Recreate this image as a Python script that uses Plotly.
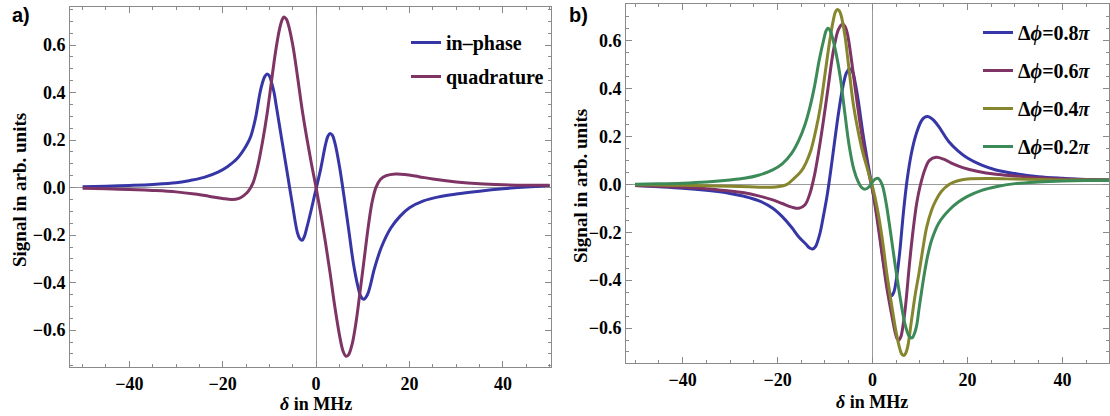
import plotly.graph_objects as go

# ---------------- Panel a data ----------------
inphase_x = [-50, -45, -40, -35, -30, -27, -24, -21, -19, -17, -15, -14, -13, -12, -11.5, -11, -10.5, -10, -9.5, -9,
             -8.5, -8, -7, -6, -5, -4, -3.5, -3, -2.5, -2, -1, 0, 1, 2, 2.5, 3, 3.5, 4, 5, 6, 7, 8, 9, 9.5, 10.2, 11,
             11.5, 12.5, 14, 16, 18, 20, 23, 26, 30, 35, 40, 45, 50]
inphase_y = [0.004, 0.006, 0.009, 0.013, 0.02, 0.03, 0.043, 0.065, 0.088, 0.12, 0.175, 0.215, 0.29, 0.40, 0.44,
             0.467, 0.478, 0.47, 0.44, 0.40, 0.34, 0.28, 0.16, 0.04, -0.08, -0.19, -0.215, -0.222, -0.205, -0.17,
             -0.09, -0.005, 0.08, 0.18, 0.215, 0.228, 0.22, 0.19, 0.09, -0.04, -0.18, -0.32, -0.42, -0.455, -0.47,
             -0.45, -0.42, -0.34, -0.25, -0.17, -0.12, -0.085, -0.056, -0.04, -0.027, -0.015, -0.005, 0.003, 0.008]

quad_x = [-50, -45, -40, -35, -30, -26, -23, -20, -18, -16.5, -15.5, -14.5, -13.5, -12.5, -11.5, -10.5, -9.6, -8.7,
          -7.8, -7.3, -6.9, -6.4, -6, -5, -4, -3, -2, -1, 0, 1, 2, 3, 4, 5, 5.8, 6.4, 6.9, 7.7, 8.6, 9.4, 10.3, 11.2,
          12, 12.8, 13.8, 15, 17, 19, 22, 25, 30, 35, 40, 45, 50]
quad_y = [-0.003, -0.005, -0.008, -0.012, -0.018, -0.027, -0.036, -0.046, -0.05, -0.045, -0.034, -0.015, 0.02, 0.09,
          0.19, 0.31, 0.44, 0.57, 0.67, 0.705, 0.718, 0.71, 0.69, 0.6, 0.47, 0.33, 0.21, 0.1, 0.0, -0.11, -0.23,
          -0.36, -0.5, -0.62, -0.69, -0.71, -0.705, -0.66, -0.56, -0.44, -0.3, -0.16, -0.06, 0.0, 0.035, 0.05, 0.057,
          0.055, 0.046, 0.036, 0.024, 0.016, 0.012, 0.01, 0.01]

# ---------------- Panel b data ----------------
b08_x = [-50, -45, -40, -35, -30, -27, -24, -21, -19, -17, -15.5, -14, -13.3, -12.6, -12, -11.5, -11, -10.5, -9.5,
         -8.5, -7.5, -6.5, -6, -5.5, -4.8, -4.2, -3.6, -3, -2, -1, 0, 1, 2, 3, 3.5, 4, 4.5, 5, 5.7, 6.5, 7.3, 8.2,
         9.2, 10.3, 11, 11.6, 12.3, 13, 14, 16, 18, 20, 23, 26, 30, 35, 40, 45, 50]
b08_y = [-0.005, -0.01, -0.016, -0.025, -0.038, -0.05, -0.068, -0.1, -0.135, -0.18, -0.22, -0.25, -0.265, -0.27,
         -0.26, -0.235, -0.2, -0.15, -0.04, 0.1, 0.25, 0.38, 0.43, 0.465, 0.483, 0.47, 0.42, 0.35, 0.21, 0.09, -0.02,
         -0.13, -0.28, -0.41, -0.45, -0.465, -0.45, -0.4, -0.29, -0.12, 0.02, 0.13, 0.21, 0.265, 0.28, 0.283, 0.277,
         0.265, 0.24, 0.18, 0.14, 0.11, 0.08, 0.06, 0.045, 0.032, 0.025, 0.02, 0.018]

b06_x = [-50, -45, -40, -35, -30, -27, -24, -21, -19, -17, -15.5, -14.2, -13.2, -12.3, -11.3, -10.3, -9.3, -8.3,
         -7.3, -6.8, -6.3, -5.8, -5.3, -4.5, -3.5, -2.5, -1.5, -0.5, 0, 1, 2, 3, 4, 4.8, 5.2, 5.6, 6, 6.5, 7, 7.8,
         8.5, 9.3, 10, 11, 12, 13.4, 15, 17, 19, 22, 26, 30, 35, 40, 45, 50]
b06_y = [-0.005, -0.008, -0.012, -0.018, -0.028, -0.035, -0.048, -0.065, -0.08, -0.095, -0.1, -0.085, -0.04, 0.03,
         0.14, 0.27, 0.41, 0.55, 0.64, 0.66, 0.67, 0.66, 0.63, 0.53, 0.38, 0.24, 0.12, 0.02, -0.025, -0.15, -0.29,
         -0.43, -0.54, -0.62, -0.645, -0.65, -0.635, -0.58, -0.5, -0.33, -0.2, -0.08, -0.01, 0.06, 0.1, 0.113, 0.105,
         0.085, 0.07, 0.055, 0.042, 0.035, 0.027, 0.022, 0.02, 0.018]

b04_x = [-50, -45, -40, -35, -30, -26, -23, -20, -18, -16.5, -15, -14, -13, -12, -11, -10, -9, -8.2, -7.8, -7.4, -7,
         -6.6, -5.8, -5, -4, -3, -2, -1, 0, 1, 2, 3, 4, 5, 5.8, 6.2, 6.6, 7, 7.4, 8.2, 9, 9.8, 10.6, 11.4, 12.4,
         13.4, 14.5, 16.2, 18, 20, 25, 30, 35, 40, 45, 50]
b04_y = [-0.002, -0.003, -0.004, -0.006, -0.008, -0.01, -0.012, -0.01, 0.0, 0.025, 0.055, 0.09, 0.14, 0.22, 0.32,
         0.46, 0.6, 0.69, 0.72, 0.73, 0.725, 0.705, 0.62, 0.49, 0.33, 0.22, 0.13, 0.06, -0.01, -0.1, -0.22, -0.37,
         -0.5, -0.62, -0.69, -0.71, -0.715, -0.705, -0.68, -0.57, -0.46, -0.37, -0.27, -0.18, -0.11, -0.065, -0.03,
         0.0, 0.015, 0.022, 0.024, 0.022, 0.02, 0.018, 0.018, 0.017]

b02_x = [-50, -45, -40, -35, -30, -27, -24, -21, -19, -17, -15.6, -14.2, -13.2, -12.2, -11.2, -10.2, -9.8, -9.4,
         -9, -8.6, -7.7, -6.8, -5.9, -4.9, -3.9, -3, -2.2, -1.5, -0.7, 0, 0.6, 1.2, 2, 2.8, 3.8, 4.8, 5.8, 6.8, 7.6,
         8, 8.4, 8.8, 9.3, 9.8, 10.7, 11.6, 12.5, 14, 16, 18, 20, 23, 26, 30, 35, 40, 45, 50]
b02_y = [0.0, 0.002, 0.005, 0.01, 0.018, 0.025, 0.038, 0.06, 0.085, 0.13, 0.18, 0.25, 0.32, 0.41, 0.52, 0.61, 0.64,
         0.652, 0.645, 0.625, 0.55, 0.45, 0.31, 0.16, 0.06, 0.01, -0.015, -0.02, -0.01, 0.01, 0.022, 0.025, 0.0,
         -0.07, -0.2, -0.34, -0.47, -0.58, -0.63, -0.64, -0.64, -0.625, -0.59, -0.52, -0.4, -0.3, -0.23, -0.16,
         -0.11, -0.075, -0.05, -0.025, -0.01, 0.003, 0.01, 0.014, 0.016, 0.017]

names_a = ["in\u2013phase", "quadrature"]
names_b = ["\u0394<i>\u03d5</i>=0.8<i>\u03c0</i>", "\u0394<i>\u03d5</i>=0.6<i>\u03c0</i>",
           "\u0394<i>\u03d5</i>=0.4<i>\u03c0</i>", "\u0394<i>\u03d5</i>=0.2<i>\u03c0</i>"]

x_ticks = [-40, -20, 0, 20, 40]
y_ticks = [-0.6, -0.4, -0.2, 0.0, 0.2, 0.4, 0.6]

BLUE = "#3636a6"
PURPLE = "#7e3464"
OLIVE = "#86862e"
GREEN = "#3b8a58"

W, H = 1110, 416
SERIF = "Liberation Serif, Times New Roman, DejaVu Serif, serif"

fig = go.Figure()

def add(x, y, name, color, xa, ya, legend, group):
    fig.add_trace(go.Scatter(x=x, y=y, mode="lines", name=name, xaxis=xa, yaxis=ya,
                             line=dict(color=color, width=3, shape="spline", smoothing=1.0),
                             legend=legend, legendgroup=group, showlegend=True))

add(inphase_x, inphase_y, names_a[0], BLUE, "x", "y", "legend", "a1")
add(quad_x, quad_y, names_a[1], PURPLE, "x", "y", "legend", "a2")
add(b08_x, b08_y, names_b[0], BLUE, "x2", "y2", "legend2", "b1")
add(b06_x, b06_y, names_b[1], PURPLE, "x2", "y2", "legend2", "b2")
add(b04_x, b04_y, names_b[2], OLIVE, "x2", "y2", "legend2", "b3")
add(b02_x, b02_y, names_b[3], GREEN, "x2", "y2", "legend2", "b4")

FRAME = "#8a8a8a"
tickfont = dict(family=SERIF, size=18, color="black", weight="bold")

def xaxis(domain, rng, anchor):
    return dict(domain=domain, range=rng, anchor=anchor, tickvals=x_ticks, ticks="inside", ticklen=6,
                tickcolor=FRAME, showline=True, linecolor=FRAME, linewidth=1, mirror="allticks",
                showgrid=False, zeroline=True, zerolinecolor="#9a9a9a", zerolinewidth=1,
                tickfont=tickfont,
                minor=dict(ticks="inside", dtick=5, tick0=0, ticklen=3, tickcolor=FRAME, showgrid=False))

def yaxis(domain, rng, anchor):
    return dict(domain=domain, range=rng, anchor=anchor, tickvals=y_ticks, tickformat=".1f", ticks="inside",
                ticklen=6, tickcolor=FRAME, showline=True, linecolor=FRAME, linewidth=1, mirror="allticks",
                showgrid=False, zeroline=True, zerolinecolor="#9a9a9a", zerolinewidth=1,
                tickfont=tickfont,
                minor=dict(ticks="inside", dtick=0.05, tick0=0, ticklen=3, tickcolor=FRAME, showgrid=False))

legend_font = dict(family=SERIF, size=20, color="black", weight="bold")

fig.update_layout(
    width=W, height=H, margin=dict(l=0, r=0, t=0, b=0),
    paper_bgcolor="white", plot_bgcolor="white",
    font=dict(family=SERIF, color="black"),
    xaxis=xaxis([70 / W, 551 / W], [-52.7, 50.3], "y"),
    yaxis=yaxis([1 - 367 / H, 1 - 7 / H], [-0.755, 0.76], "x"),
    xaxis2=xaxis([626 / W, 1109 / W], [-51.9, 49.8], "y2"),
    yaxis2=yaxis([1 - 363 / H, 1 - 4 / H], [-0.746, 0.753], "x2"),
    legend=dict(x=406 / W, y=1 - 23 / H, xanchor="left", yanchor="top", bgcolor="rgba(0,0,0,0)",
                font=legend_font, traceorder="grouped", tracegroupgap=5, itemwidth=30),
    legend2=dict(x=978 / W, y=1 - 13 / H, xanchor="left", yanchor="top", bgcolor="rgba(0,0,0,0)",
                 font=legend_font, traceorder="grouped", tracegroupgap=9, itemwidth=30),
    showlegend=True,
)

ytitle_font = dict(family=SERIF, size=19, color="black", weight="bold")
xtitle_font = dict(family=SERIF, size=18, color="black", weight="bold")
label_font = dict(family="Liberation Sans, Arial, sans-serif", size=20, color="black", weight="bold")

def ann(text, px, py, font, angle=0):
    return dict(text=text, x=px / W, y=1 - py / H, xref="paper", yref="paper", showarrow=False,
                xanchor="center", yanchor="middle", textangle=angle, font=font)

annotations = [
    ann("a)", 21, 15, label_font),
    ann("b)", 578, 15, label_font),
    ann("Signal in arb. units", 20, 190, ytitle_font, -90),
    ann("Signal in arb. units", 580, 186, ytitle_font, -90),
    ann("<i>\u03b4</i> in MHz", 316, 404, xtitle_font),
    ann("<i>\u03b4</i> in MHz", 872, 402, xtitle_font),
]
fig.update_layout(annotations=annotations)

# remove the browser's default 8px page margin so the figure sits at the window origin
fig.write_html("out.html", config={"displayModeBar": False},
               post_script="document.body.style.margin='0px';")
